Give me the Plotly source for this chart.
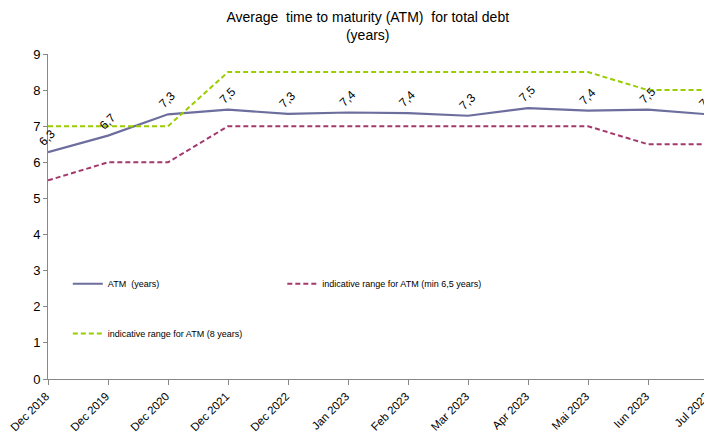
import plotly.graph_objects as go

categories = ["Dec 2018", "Dec 2019", "Dec 2020", "Dec 2021", "Dec 2022", "Jan 2023",
              "Feb 2023", "Mar 2023", "Apr 2023", "Mai 2023", "Iun 2023", "Jul 2023"]
atm_values = [6.28, 6.74, 7.33, 7.46, 7.34, 7.38, 7.36, 7.29, 7.50, 7.43, 7.46, 7.33]
min_range = [5.5, 6.0, 6.0, 7.0, 7.0, 7.0, 7.0, 7.0, 7.0, 7.0, 6.5, 6.5]
target_range = [7.0, 7.0, 7.0, 8.5, 8.5, 8.5, 8.5, 8.5, 8.5, 8.5, 8.0, 8.0]
y_ticks = [0, 1, 2, 3, 4, 5, 6, 7, 8, 9]

FONT = "Liberation Sans, Arial, sans-serif"
xi = list(range(len(categories)))

fig = go.Figure()
fig.add_trace(go.Scatter(x=xi, y=atm_values, mode="lines", name="ATM  (years)",
                         line=dict(color="#6E6E9E", width=2.2), legend="legend"))
fig.add_trace(go.Scatter(x=xi, y=min_range, mode="lines",
                         name="indicative range for ATM (min 6,5 years)",
                         line=dict(color="#A3386C", width=2, dash="5px,3px"), legend="legend2"))
fig.add_trace(go.Scatter(x=xi, y=target_range, mode="lines",
                         name="indicative range for ATM (8 years)",
                         line=dict(color="#9ACD00", width=2, dash="5px,3px"), legend="legend3"))

for i, v in zip(xi, atm_values):
    fig.add_annotation(x=i, y=v, text=f"{v:.1f}".replace(".", ","), showarrow=False,
                       textangle=-45, xanchor="center", yanchor="middle",
                       xshift=-1, yshift=14, font=dict(family=FONT, size=12, color="#000"))

leg_common = dict(bgcolor="rgba(0,0,0,0)", font=dict(family=FONT, size=9, color="#000"),
                  xanchor="left", yanchor="middle", itemwidth=30)
fig.update_layout(
    width=704, height=435,
    margin=dict(l=40, r=4, t=46, b=64),
    paper_bgcolor="white", plot_bgcolor="white",
    title=dict(text="Average  time to maturity (ATM)  for total debt<br>(years)",
               x=0.511, xanchor="center", y=0.968, yanchor="top",
               font=dict(family=FONT, size=14, color="#000")),
    showlegend=True,
    legend=dict(x=0.03, y=0.293, **leg_common),
    legend2=dict(x=0.355, y=0.293, **leg_common),
    legend3=dict(x=0.03, y=0.14, **leg_common),
    xaxis=dict(range=[0, len(categories) - 1], tickmode="array", tickvals=xi,
               ticktext=categories, tickangle=-45, showgrid=False, zeroline=False,
               showline=True, linecolor="#888", linewidth=1, ticks="outside",
               ticklen=5, tickcolor="#888", ticklabeloverflow="allow", automargin=False,
               ticklabelshift=-2,
               tickfont=dict(family=FONT, size=11.5, color="#000")),
    yaxis=dict(range=[0, 9], tickmode="array", tickvals=y_ticks, showgrid=False,
               zeroline=False, showline=True, linecolor="#888", linewidth=1,
               ticks="outside", ticklen=4, tickcolor="#888", automargin=False,
               tickfont=dict(family=FONT, size=13, color="#000")),
)
fig.write_html("out.html")
